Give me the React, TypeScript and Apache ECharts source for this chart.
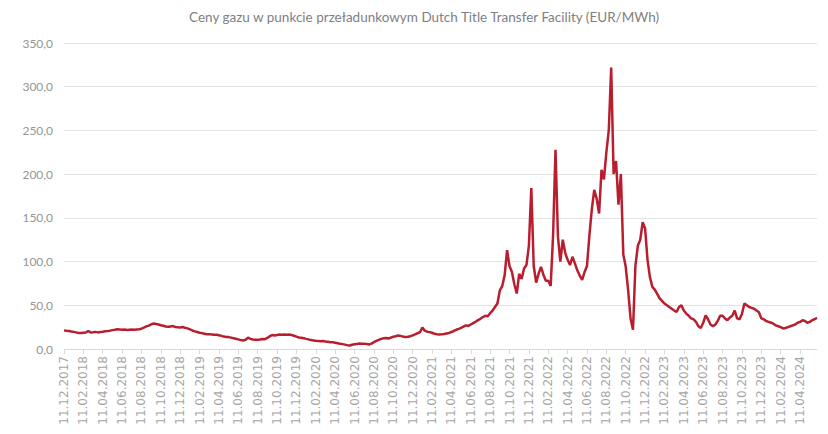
import React, { useEffect, useRef } from "react";
import * as echarts from "echarts";

const TITLE = "Ceny gazu w punkcie przeładunkowym Dutch Title Transfer Facility (EUR/MWh)";

// Weekly observation days within each month (11th, 18th, 25th, and 3rd of next month)
const WEEK_DAYS = ["11", "18", "25", "03"];
const START_YEAR = 2017;
const START_MONTH = 12;
const MONTH_COUNT = 78;

// Price (EUR/MWh), 4 readings per month, Dec 2017 .. May 2024
const prices: number[] = [
  21.3, 20.8, 20.5, 20.0,
  19.6, 19.0, 18.4, 18.2,
  18.6, 18.8, 20.6, 19.0,
  19.2, 19.6, 19.0, 19.4,
  19.8, 20.3, 20.6, 21.0,
  21.6, 22.0, 22.5, 22.3,
  22.0, 22.4, 21.8, 22.0,
  22.2, 22.0, 22.4, 22.6,
  23.2, 24.5, 25.8, 26.8,
  28.2, 29.2, 28.6, 28.0,
  27.2, 26.5, 25.8, 25.4,
  25.8, 26.2, 25.2, 24.8,
  24.6, 25.2, 24.2, 23.6,
  22.4, 21.2, 20.2, 19.4,
  18.6, 18.2, 17.4, 16.8,
  17.0, 16.6, 16.2, 16.3,
  15.8, 15.0, 14.2, 13.8,
  13.6, 13.0, 12.4, 11.8,
  11.0, 10.2, 9.8, 10.6,
  12.9, 11.6, 10.8, 10.5,
  10.5, 10.8, 11.5, 11.2,
  12.6, 14.6, 16.0, 15.4,
  16.0, 16.6, 16.2, 16.5,
  16.2, 16.6, 16.0, 15.2,
  14.2, 13.2, 12.9, 12.4,
  11.6, 11.0, 10.2, 9.8,
  9.4, 9.2, 9.0, 9.2,
  8.6, 8.2, 7.8, 7.6,
  7.2, 6.6, 6.0, 5.6,
  5.0, 4.4, 4.0, 4.8,
  5.4, 5.8, 6.2, 6.0,
  6.0, 5.6, 5.2, 6.2,
  7.8, 9.2, 10.4, 11.6,
  12.2, 12.6, 12.0, 13.0,
  14.0, 14.6, 15.5, 15.0,
  14.2, 13.6, 14.0, 14.6,
  15.6, 16.8, 18.0, 19.2,
  24.5, 21.0, 19.8, 19.3,
  18.6, 17.4, 16.8, 16.7,
  16.8, 17.2, 17.8, 18.4,
  19.4, 20.6, 22.0, 23.0,
  24.2, 25.5, 27.0, 26.4,
  28.0, 29.6, 31.2, 33.0,
  34.5, 36.6, 38.0, 37.5,
  41.0, 44.0, 48.0, 52.0,
  67.0, 72.0, 84.5, 113.0,
  95.0, 88.0, 74.0, 63.5,
  86.0, 80.0, 92.0, 96.0,
  118.0, 184.0, 95.0, 76.0,
  86.0, 94.0, 85.0, 78.0,
  78.0, 72.0, 130.0, 228.0,
  128.5, 100.0, 125.0, 110.0,
  102.0, 96.0, 105.5, 98.0,
  90.0, 84.0, 79.0, 88.0,
  95.0, 130.0, 160.0, 182.0,
  172.0, 155.0, 205.0, 194.0,
  225.0, 250.0, 322.0, 200.0,
  215.0, 165.0, 200.0, 108.0,
  94.0, 67.0, 35.0, 22.0,
  95.0, 118.0, 125.0, 145.0,
  138.0, 102.0, 82.0, 71.0,
  68.0, 63.0, 58.0, 55.0,
  52.0, 50.0, 48.0, 46.0,
  44.0, 42.3, 48.0, 50.0,
  44.0, 40.5, 38.0, 35.0,
  34.0, 31.0, 26.0, 24.0,
  30.0, 38.5, 34.0, 28.0,
  26.0, 28.0, 32.0, 38.0,
  38.0, 35.0, 33.0, 36.0,
  38.0, 44.0, 35.0, 34.0,
  40.0, 52.0, 50.0, 48.0,
  47.0, 46.0, 44.0, 42.0,
  35.0, 34.0, 32.0, 31.0,
  30.0, 29.0, 27.0, 26.0,
  25.0, 23.5, 24.0, 25.0,
  26.0, 27.0, 28.0, 30.0,
  31.0, 33.0, 32.0, 30.0,
  31.0, 33.0, 34.0, 35.5,
];

function pad(n: number) {
  return n < 10 ? "0" + n : String(n);
}

function buildDates(): string[] {
  const out: string[] = [];
  for (let k = 0; k < MONTH_COUNT; k++) {
    const total = START_MONTH - 1 + k;
    const y = START_YEAR + Math.floor(total / 12);
    const m = (total % 12) + 1;
    const ny = m === 12 ? y + 1 : y;
    const nm = m === 12 ? 1 : m + 1;
    for (let w = 0; w < WEEK_DAYS.length; w++) {
      if (w < 3) out.push(`${WEEK_DAYS[w]}.${pad(m)}.${y}`);
      else out.push(`${WEEK_DAYS[w]}.${pad(nm)}.${ny}`);
    }
  }
  return out;
}

const dates = buildDates();

export default function App() {
  const ref = useRef<HTMLDivElement>(null);
  useEffect(() => {
    if (!ref.current) return;
    const chart = echarts.init(ref.current, undefined, { renderer: "svg" });
    chart.setOption({
      animation: false,
      backgroundColor: "#ffffff",
      title: {
        text: TITLE,
        left: 184,
        top: 5,
        textStyle: {
          fontFamily: "Lato",
          fontSize: 13.5,
          fontWeight: "normal",
          color: "#7f7f7f",
        },
      },
      grid: { left: 64, right: 11, top: 43, bottom: 85, containLabel: false },
      xAxis: {
        type: "category",
        data: dates,
        boundaryGap: false,
        axisLine: { lineStyle: { color: "#d9d9d9", width: 1 } },
        axisTick: {
          show: true,
          interval: 7,
          length: 5,
          lineStyle: { color: "#d9d9d9" },
        },
        axisLabel: {
          interval: 7,
          rotate: 90,
          margin: 7,
          fontFamily: "DejaVu Sans",
          fontSize: 12,
          color: "#a6a6a6",
        },
        splitLine: { show: false },
      },
      yAxis: {
        type: "value",
        min: 0,
        max: 350,
        interval: 50,
        axisLine: { show: false },
        axisTick: { show: false },
        axisLabel: {
          margin: 11,
          fontFamily: "Lato",
          fontSize: 12,
          color: "#959595",
          formatter: (v: number) => v.toFixed(1).replace(".", ","),
        },
        splitLine: { lineStyle: { color: "#e3e3e3", width: 1 } },
      },
      series: [
        {
          type: "line",
          data: prices,
          symbol: "none",
          showSymbol: false,
          color: "#b81e2e",
          lineStyle: { color: "#b81e2e", width: 2.5 },
        },
      ],
    });
    return () => chart.dispose();
  }, []);
  return (
    <div
      ref={ref}
      style={{ position: "absolute", left: 0, top: 0, width: 828, height: 434 }}
    />
  );
}
